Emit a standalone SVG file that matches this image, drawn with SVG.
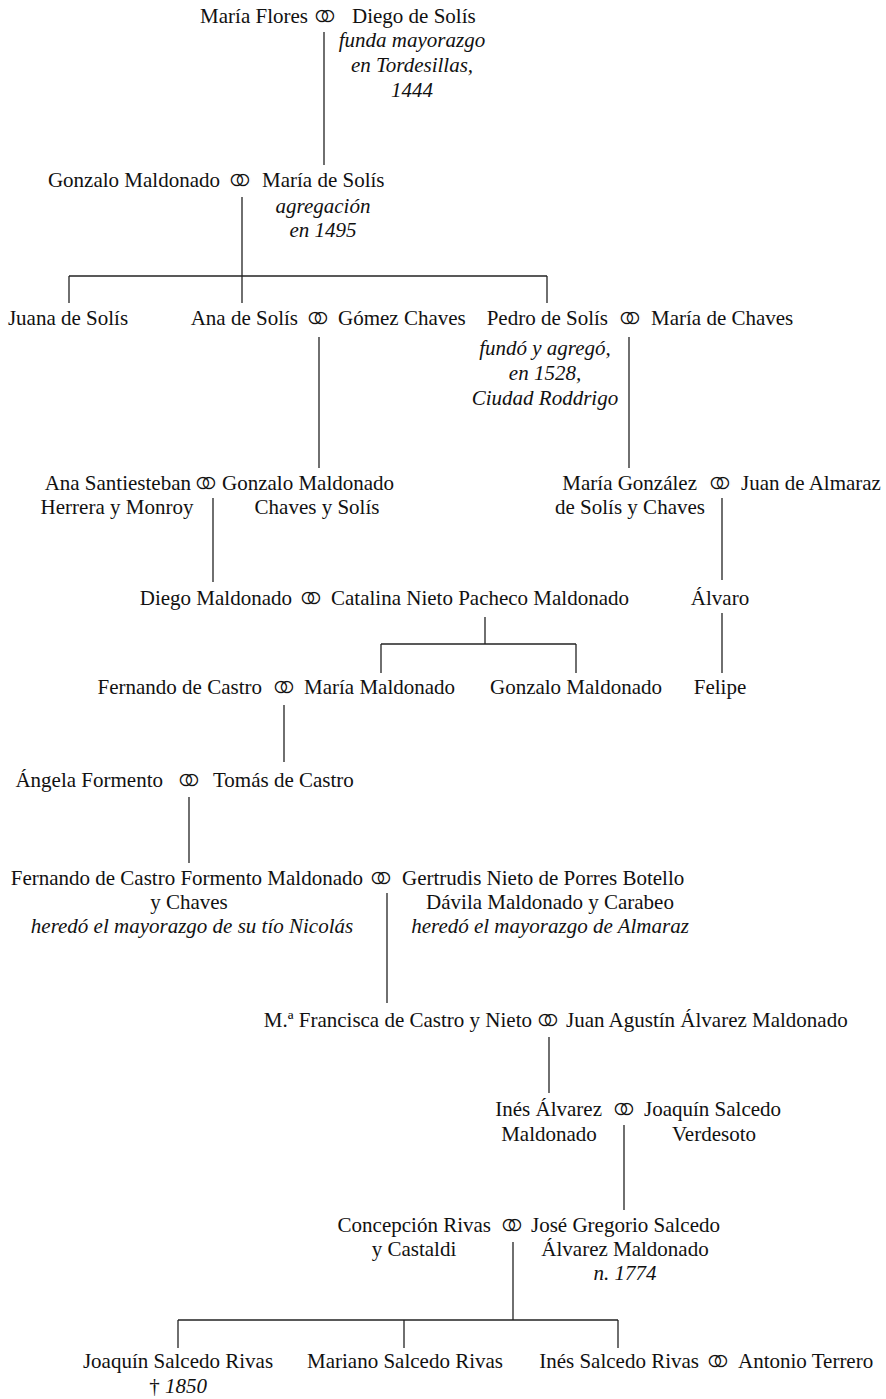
<svg xmlns="http://www.w3.org/2000/svg" width="886" height="1399" viewBox="0 0 886 1399">
<style>
text{font-family:"Liberation Serif","Times New Roman",serif;font-size:21px;fill:#111}
.i{font-style:italic}
.m{text-anchor:middle}
.e{text-anchor:end}
.s{text-anchor:start}
.r{font-family:"DejaVu Sans",sans-serif;font-size:41px;text-anchor:middle;stroke:#fff;stroke-width:1.5}
.c line{stroke:#222;stroke-width:1.3}
</style>
<rect width="886" height="1399" fill="#fff"/>
<g class="c" id="connectors">
<line x1="324" y1="32" x2="324" y2="165"/>
<line x1="242" y1="197" x2="242" y2="303"/>
<line x1="69" y1="276" x2="547" y2="276"/>
<line x1="69" y1="276" x2="69" y2="303"/>
<line x1="547" y1="276" x2="547" y2="303"/>
<line x1="319" y1="337" x2="319" y2="468"/>
<line x1="629" y1="337" x2="629" y2="468"/>
<line x1="213" y1="498" x2="213" y2="582"/>
<line x1="722" y1="498" x2="722" y2="580"/>
<line x1="485" y1="617" x2="485" y2="644"/>
<line x1="381" y1="644" x2="576" y2="644"/>
<line x1="381" y1="644" x2="381" y2="673"/>
<line x1="576" y1="644" x2="576" y2="673"/>
<line x1="722" y1="613" x2="722" y2="673"/>
<line x1="284" y1="705" x2="284" y2="762"/>
<line x1="189" y1="797" x2="189" y2="863"/>
<line x1="387" y1="893" x2="387" y2="1003"/>
<line x1="549" y1="1037" x2="549" y2="1093"/>
<line x1="624" y1="1125" x2="624" y2="1210"/>
<line x1="513" y1="1242" x2="513" y2="1320"/>
<line x1="178" y1="1320" x2="618" y2="1320"/>
<line x1="178" y1="1320" x2="178" y2="1348"/>
<line x1="404" y1="1320" x2="404" y2="1348"/>
<line x1="618" y1="1320" x2="618" y2="1348"/>
</g>
<g id="maria-flores"><text class="e" x="308" y="23">María Flores</text></g>
<g id="m1"><text class="r" x="325" y="31">⚭</text></g>
<g id="diego-de-solis"><text class="s" x="352" y="23">Diego de Solís</text>
<text class="i m" x="412" y="47">funda mayorazgo</text><text class="i m" x="412" y="72">en Tordesillas,</text><text class="i m" x="412" y="97">1444</text></g>
<g id="gonzalo-maldonado-1"><text class="e" x="220" y="187">Gonzalo Maldonado</text></g>
<g id="m2"><text class="r" x="240" y="195">⚭</text></g>
<g id="maria-de-solis"><text class="s" x="262" y="187">María de Solís</text>
<text class="i m" x="323" y="213">agregación</text><text class="i m" x="323" y="237">en 1495</text></g>
<g id="juana-de-solis"><text class="m" x="68" y="325">Juana de Solís</text></g>
<g id="ana-de-solis"><text class="e" x="298" y="325">Ana de Solís</text></g>
<g id="m3"><text class="r" x="318" y="333">⚭</text></g>
<g id="gomez-chaves"><text class="s" x="338" y="325">Gómez Chaves</text></g>
<g id="pedro-de-solis"><text class="e" x="608" y="325">Pedro de Solís</text>
<text class="i m" x="545" y="355">fundó y agregó,</text><text class="i m" x="545" y="380">en 1528,</text><text class="i m" x="545" y="405">Ciudad Roddrigo</text></g>
<g id="m4"><text class="r" x="630" y="333">⚭</text></g>
<g id="maria-de-chaves"><text class="s" x="651" y="325">María de Chaves</text></g>
<g id="ana-santiesteban"><text class="e" x="191" y="490">Ana Santiesteban</text><text class="m" x="117" y="514">Herrera y Monroy</text></g>
<g id="m5"><text class="r" x="206" y="498">⚭</text></g>
<g id="gonzalo-maldonado-2"><text class="s" x="222" y="490">Gonzalo Maldonado</text><text class="m" x="317" y="514">Chaves y Solís</text></g>
<g id="maria-gonzalez"><text class="e" x="697" y="490">María González</text><text class="m" x="630" y="514">de Solís y Chaves</text></g>
<g id="m6"><text class="r" x="720" y="498">⚭</text></g>
<g id="juan-de-almaraz"><text class="s" x="741" y="490">Juan de Almaraz</text></g>
<g id="diego-maldonado"><text class="e" x="292" y="605">Diego Maldonado</text></g>
<g id="m7"><text class="r" x="311" y="613">⚭</text></g>
<g id="catalina-nieto"><text class="s" x="331" y="605">Catalina Nieto Pacheco Maldonado</text></g>
<g id="alvaro"><text class="m" x="720" y="605">Álvaro</text></g>
<g id="fernando-de-castro"><text class="e" x="262" y="694">Fernando de Castro</text></g>
<g id="m8"><text class="r" x="284" y="702">⚭</text></g>
<g id="maria-maldonado"><text class="s" x="304" y="694">María Maldonado</text></g>
<g id="gonzalo-maldonado-3"><text class="m" x="576" y="694">Gonzalo Maldonado</text></g>
<g id="felipe"><text class="m" x="720" y="694">Felipe</text></g>
<g id="angela-formento"><text class="e" x="163" y="787">Ángela Formento</text></g>
<g id="m9"><text class="r" x="189" y="795">⚭</text></g>
<g id="tomas-de-castro"><text class="s" x="213" y="787">Tomás de Castro</text></g>
<g id="fernando-de-castro-formento"><text class="e" x="363" y="885">Fernando de Castro Formento Maldonado</text><text class="m" x="189" y="909">y Chaves</text><text class="i m" x="192" y="933">heredó el mayorazgo de su tío Nicolás</text></g>
<g id="m10"><text class="r" x="381" y="893">⚭</text></g>
<g id="gertrudis-nieto"><text class="s" x="402" y="885">Gertrudis Nieto de Porres Botello</text><text class="m" x="550" y="909">Dávila Maldonado y Carabeo</text><text class="i m" x="550" y="933">heredó el mayorazgo de Almaraz</text></g>
<g id="francisca-de-castro"><text class="e" x="532" y="1027">M.ª Francisca de Castro y Nieto</text></g>
<g id="m11"><text class="r" x="548" y="1035">⚭</text></g>
<g id="juan-agustin"><text class="s" x="566" y="1027">Juan Agustín Álvarez Maldonado</text></g>
<g id="ines-alvarez"><text class="e" x="602" y="1116">Inés Álvarez</text><text class="m" x="549" y="1141">Maldonado</text></g>
<g id="m12"><text class="r" x="624" y="1124">⚭</text></g>
<g id="joaquin-salcedo"><text class="s" x="644" y="1116">Joaquín Salcedo</text><text class="m" x="714" y="1141">Verdesoto</text></g>
<g id="concepcion-rivas"><text class="e" x="491" y="1232">Concepción Rivas</text><text class="m" x="414" y="1256">y Castaldi</text></g>
<g id="m13"><text class="r" x="512" y="1240">⚭</text></g>
<g id="jose-gregorio"><text class="s" x="531" y="1232">José Gregorio Salcedo</text><text class="m" x="625" y="1256">Álvarez Maldonado</text><text class="i m" x="625" y="1280">n. 1774</text></g>
<g id="joaquin-salcedo-rivas"><text class="m" x="178" y="1368">Joaquín Salcedo Rivas</text><text class="m" x="178" y="1393">† <tspan class="i">1850</tspan></text></g>
<g id="mariano-salcedo-rivas"><text class="m" x="405" y="1368">Mariano Salcedo Rivas</text></g>
<g id="ines-salcedo-rivas"><text class="e" x="699" y="1368">Inés Salcedo Rivas</text></g>
<g id="m14"><text class="r" x="718" y="1376">⚭</text></g>
<g id="antonio-terrero"><text class="s" x="738" y="1368">Antonio Terrero</text></g>
</svg>
